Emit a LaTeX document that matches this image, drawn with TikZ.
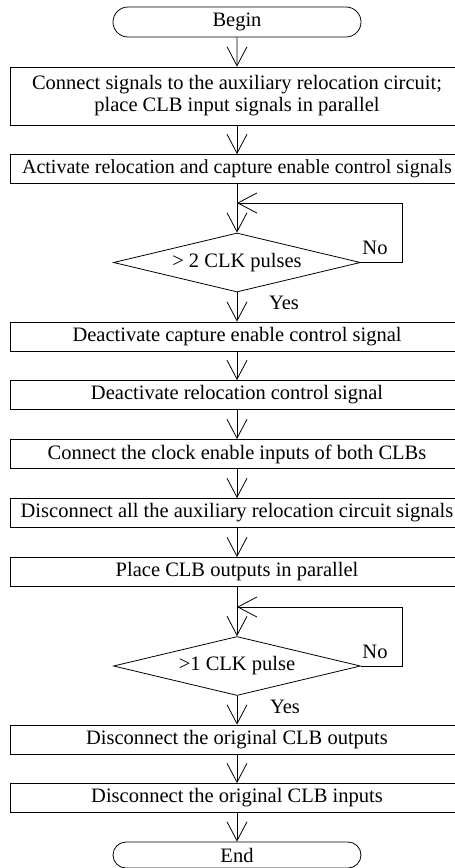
\documentclass[tikz,border=0pt]{standalone}
\usepackage{fontspec}
\setmainfont{Liberation Serif}
\usetikzlibrary{shapes.geometric,shapes.misc,arrows.meta}

\begin{document}
\begin{tikzpicture}[x=1pt,y=-1pt,line width=0.8pt,
  every node/.style={font=\fontsize{20.5}{22}\selectfont},
  stepbox/.style={draw,rectangle,minimum width=454pt,minimum height=29pt,inner xsep=0pt,inner ysep=2pt,align=center},
  termbox/.style={draw,rounded rectangle,minimum width=248pt,minimum height=30pt,inner sep=0pt},
  testbox/.style={draw,diamond,aspect=4.19,minimum width=247pt,minimum height=59pt,inner sep=0pt},
  flow/.style={-{Straight Barb[length=19pt,width=20pt]}}]
  \useasboundingbox (0,0) rectangle (455,868);
  \clip (0,0) rectangle (455,868);
  \node[termbox] (begin) at (237,22) {Begin};
  \node[stepbox,minimum height=58pt] (s1) at (237,96) {Connect signals to the auxiliary relocation circuit;\\place CLB input signals in parallel};
  \node[stepbox,font=\fontsize{20}{22}\selectfont] (s2) at (237,169) {Activate relocation and capture enable control signals};
  \coordinate (back1) at (237,203);
  \coordinate (turn1) at (402,203);
  \node[testbox] (t1) at (237,262.5) {> 2 CLK pulses};
  \node (no1) at (375,248) {No};
  \node (yes1) at (284,303) {Yes};
  \node[stepbox] (s3) at (237,336.5) {Deactivate capture enable control signal};
  \node[stepbox] (s4) at (237,395) {Deactivate relocation control signal};
  \node[stepbox] (s5) at (237,454) {Connect the clock enable inputs of both CLBs};
  \node[stepbox] (s6) at (237,513) {Disconnect all the auxiliary relocation circuit signals};
  \node[stepbox] (s7) at (237,572) {Place CLB outputs in parallel};
  \coordinate (back2) at (237,607);
  \coordinate (turn2) at (402,607);
  \node[testbox] (t2) at (237,666) {>1 CLK pulse};
  \node (no2) at (375,652) {No};
  \node (yes2) at (285,707) {Yes};
  \node[stepbox] (s8) at (237,739.5) {Disconnect the original CLB outputs};
  \node[stepbox] (s9) at (237,798) {Disconnect the original CLB inputs};
  \node[termbox,minimum height=26pt] (end) at (237,855) {End};
  \draw[flow] (begin) -- (s1);
  \draw[flow] (s1) -- (s2);
  \draw[flow] (s2) -- (t1);
  \draw[flow] (t1.east) -| (turn1) -- (back1);
  \draw[flow] (t1) -- (s3);
  \draw[flow] (s3) -- (s4);
  \draw[flow] (s4) -- (s5);
  \draw[flow] (s5) -- (s6);
  \draw[flow] (s6) -- (s7);
  \draw[flow] (s7) -- (t2);
  \draw[flow] (t2.east) -| (turn2) -- (back2);
  \draw[flow] (t2) -- (s8);
  \draw[flow] (s8) -- (s9);
  \draw[flow] (s9) -- (end);
\end{tikzpicture}
\end{document}
